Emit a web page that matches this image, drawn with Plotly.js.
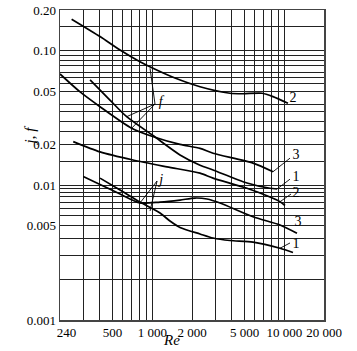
<!DOCTYPE html>
<html>
<head>
<meta charset="utf-8">
<script src="https://cdn.plot.ly/plotly-3.0.1.min.js"></script>
<style>html,body{margin:0;padding:0;background:#fff;}#chart{width:357px;height:351px;}</style>
</head>
<body>
<div id="chart"></div>
<script>
// ---- data ----
// f curves
const f2Re = [245, 402, 570, 807, 1081, 1486, 2300, 3878, 4869, 6781, 8216, 10670];
const f2Val = [0.171, 0.127, 0.101, 0.0827, 0.0717, 0.0625, 0.0539, 0.0482, 0.0478, 0.0482, 0.0455, 0.0406];
const f3Re = [200, 284, 402, 698, 1019, 1622, 2300, 2887, 5797, 8216];
const f3Val = [0.067, 0.0493, 0.0383, 0.0265, 0.0229, 0.0201, 0.0188, 0.0173, 0.0146, 0.0126];
const f1Re = [338, 478, 640, 1013, 1622, 2300, 2887, 5220, 7792, 8810];
const f1Val = [0.0605, 0.0429, 0.0323, 0.0234, 0.0168, 0.0141, 0.0130, 0.0104, 0.0095, 0.00938];
// j curves
const j2Re = [252, 402, 715, 1294, 2300, 2887, 5220, 7792, 9290, 10130];
const j2Val = [0.0211, 0.0177, 0.0154, 0.0137, 0.0123, 0.0113, 0.0095, 0.00818, 0.00755, 0.00708];
const j3Re = [300, 402, 570, 807, 1145, 1622, 2108, 2598, 3260, 5797, 9290, 12480];
const j3Val = [0.0116, 0.01013, 0.00861, 0.00739, 0.00751, 0.00777, 0.00804, 0.00791, 0.00739, 0.00584, 0.00507, 0.0044];
const j1Re = [402, 570, 807, 1145, 1362, 1622, 2300, 2887, 3878, 5797, 9290, 11640];
const j1Val = [0.0113, 0.00922, 0.00751, 0.00622, 0.00543, 0.00486, 0.00435, 0.00406, 0.00389, 0.00379, 0.00341, 0.00317];

// leader lines [Re pairs], [value pairs]
const leadRe = [[1049, 962], [1049, 640], [1049, 698], [1087, 807], [1087, 962],
                [8216, 11050], [8810, 11050], [9290, 11250], [9290, 11050]];
const leadVal = [[0.0401, 0.0738], [0.0401, 0.0323], [0.0401, 0.0265], [0.01076, 0.00739], [0.01076, 0.00644],
                 [0.0126, 0.0159], [0.00938, 0.0111], [0.00755, 0.00861], [0.00341, 0.00373]];

// curve labels
const labText = ['<i>f</i>', '<i>j</i>', '2', '3', '1', '2', '3', '1'];
const labRe = [1160, 1170, 11640, 12270, 12270, 12270, 12700, 12270];
const labVal = [0.0415, 0.0109, 0.0437, 0.0165, 0.01152, 0.00876, 0.00529, 0.00366];

// axes
const xGrid = [200, 300, 400, 500, 600, 700, 800, 900, 1000, 2000, 3000, 4000, 5000, 6000, 7000, 8000, 9000, 10000, 20000];
const xTickVals = [200, 500, 1000, 2000, 5000, 10000, 20000];
const xTickText = ['\u2003240', '500', '1 000', '2 000', '5 000', '10 000', '20 000'];
const yGrid = [0.2, 0.15, 0.1, 0.092, 0.085, 0.077, 0.069, 0.063, 0.057, 0.05, 0.04, 0.035, 0.03, 0.025, 0.02, 0.015,
               0.01, 0.0095, 0.0088, 0.0082, 0.0075, 0.0067, 0.006, 0.005, 0.004, 0.003, 0.002, 0.001];
const yTickVals = [0.2, 0.1, 0.05, 0.02, 0.01, 0.005, 0.001];
const yTickText = ['0.20', '0.10', '0.05', '0.02', '0.01', '0.005', '0.001'];

// ---- build ----
const SERIF = 'Liberation Serif, Times New Roman, serif';
function curve(x, y) {
  return {x: x, y: y, type: 'scatter', mode: 'lines', line: {color: '#000', width: 1.7, shape: 'spline', smoothing: 0.7},
          hoverinfo: 'skip', showlegend: false};
}
const traces = [
  curve(f2Re, f2Val), curve(f3Re, f3Val), curve(f1Re, f1Val),
  curve(j2Re, j2Val), curve(j3Re, j3Val), curve(j1Re, j1Val)
];
leadRe.forEach((r, i) => {
  traces.push({x: r, y: leadVal[i], type: 'scatter', mode: 'lines', line: {color: '#000', width: 0.9},
               hoverinfo: 'skip', showlegend: false});
});
traces.push({x: labRe, y: labVal, text: labText, type: 'scatter', mode: 'text', textposition: 'middle center',
             textfont: {family: SERIF, size: 14, color: '#000'}, hoverinfo: 'skip', showlegend: false, cliponaxis: false});

function ticks(grid, vals, texts) {
  return grid.map(g => { const k = vals.indexOf(g); return k >= 0 ? texts[k] : ''; });
}

const layout = {
  width: 357, height: 351,
  margin: {l: 60, r: 33, t: 10, b: 31, pad: 0},
  paper_bgcolor: '#fff', plot_bgcolor: '#fff',
  font: {family: SERIF, size: 13, color: '#000'},
  showlegend: false,
  xaxis: {
    type: 'log', range: [Math.log10(200), Math.log10(20000)],
    tickmode: 'array', tickvals: xGrid, ticktext: ticks(xGrid, xTickVals, xTickText),
    ticks: '', showgrid: true, gridcolor: '#222', gridwidth: 1,
    showline: true, mirror: true, linecolor: '#444', linewidth: 1.5, zeroline: false,
    tickfont: {family: SERIF, size: 13, color: '#000'}
  },
  yaxis: {
    type: 'log', range: [Math.log10(0.001), Math.log10(0.2)],
    tickmode: 'array', tickvals: yGrid, ticktext: ticks(yGrid, yTickVals, yTickText),
    ticks: '', showgrid: true, gridcolor: '#222', gridwidth: 1,
    showline: true, mirror: true, linecolor: '#444', linewidth: 1.5, zeroline: false,
    tickfont: {family: SERIF, size: 13, color: '#000'}
  },
  annotations: [
    {text: '<i>Re</i>', xref: 'paper', yref: 'paper', x: 0.424, y: -0.0645, xanchor: 'center', yanchor: 'middle',
     showarrow: false, font: {family: SERIF, size: 15, color: '#000'}},
    {text: '<i>j</i>, <i>f</i>', xref: 'paper', yref: 'paper', x: -0.114, y: 0.595, xanchor: 'center', yanchor: 'middle',
     textangle: -90, showarrow: false, font: {family: SERIF, size: 15, color: '#000'}}
  ]
};

Plotly.newPlot('chart', traces, layout, {staticPlot: true, displayModeBar: false});
</script>
</body>
</html>
